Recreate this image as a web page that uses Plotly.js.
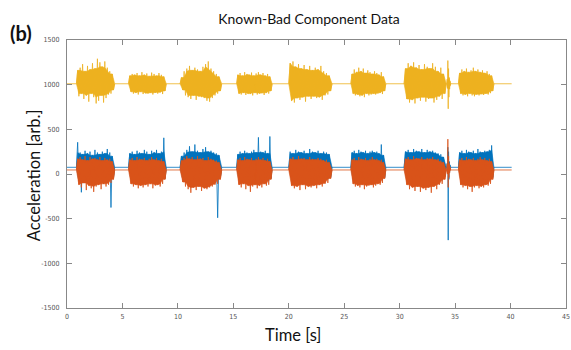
<!DOCTYPE html>
<html>
<head>
<meta charset="utf-8">
<script src="https://cdn.plot.ly/plotly-3.0.1.min.js"></script>
<style>html,body{margin:0;padding:0;background:#fff;}#chart{width:571px;height:350px;}</style>
</head>
<body>
<div id="chart"></div>
<script>
// Burst windows (seconds) – last-but-one window is the short impact event near 34.4 s
const burstStarts = [0.85, 5.55, 10.2, 15.3, 20.0, 25.6, 30.4, 34.25, 35.3];
const burstEnds   = [4.3, 8.95, 13.95, 18.5, 23.9, 28.75, 34.2, 34.6, 38.5];
const recordEnd = 40.1;

// Yellow channel (offset ~1010)
const yellowBase = 1010;
const yellowBursts = [
  [1160,870,1190,900,1230,840,1150,880,1210,810,1170,900,1240,860,1180,790,1290,820,1250,880,1200,800,1260,850,1190,890,1150,900,1120,940],
  [1100,920,1120,900,1110,910,1130,890,1100,920,1140,895,1110,905,1125,900,1095,910,1135,890,1120,910,1100,900,1130,915,1110,895,1090,930],
  [1080,940,1150,880,1180,860,1210,840,1160,880,1190,830,1170,870,1150,860,1200,850,1230,820,1260,810,1180,850,1150,880,1120,900,1090,930],
  [1110,900,1130,890,1100,910,1140,885,1120,900,1110,895,1135,880,1100,910,1125,890,1140,900,1110,905,1130,885,1100,910,1120,900,1090,930],
  [1240,820,1260,800,1200,850,1230,830,1180,860,1220,810,1170,870,1210,840,1160,870,1190,850,1170,860,1210,830,1150,880,1130,890,1100,930],
  [1120,900,1170,880,1140,890,1190,870,1150,880,1180,860,1130,900,1160,880,1140,890,1120,900,1150,890,1130,900,1110,910,1140,895,1090,930],
  [1180,840,1240,800,1210,830,1250,790,1190,850,1220,820,1170,860,1230,810,1200,840,1180,850,1240,800,1200,830,1150,870,1190,840,1120,900],
  [1060,960,1270,730,1180,860,1080,950,1040,990],
  [1130,900,1170,880,1150,890,1180,870,1140,900,1160,880,1190,870,1150,890,1170,880,1140,895,1160,885,1130,900,1150,890,1120,905,1100,930]
];

// Blue channel (offset ~75)
const blueBase = 75;
const blueBursts = [
  [355,-80,240,-205,220,-60,260,-90,230,-70,250,-100,210,-50,270,-80,240,-90,220,-60,250,-110,230,-70,280,-90,240,-375,200,-40],
  [230,-60,250,-80,220,-70,260,-90,240,-60,230,-100,270,-80,250,-70,220,-90,260,-60,240,-80,270,-70,230,-90,250,-60,405,-50],
  [200,-60,240,-90,270,-70,310,-100,250,-80,330,-110,260,-90,240,-80,280,-100,300,-70,250,-90,260,-80,240,-100,230,-490,210,-40],
  [220,-60,250,-90,230,-70,260,-80,240,-100,230,-70,250,-90,270,-80,240,-70,410,-90,250,-80,240,-60,260,-70,230,-80,420,-50],
  [250,-60,230,-90,270,-80,250,-100,240,-70,260,-90,230,-80,280,-100,250,-70,240,-90,260,-80,230,-70,250,-90,240,-60,220,-40],
  [240,-60,260,-80,230,-90,270,-70,250,-100,240,-80,260,-70,230,-90,250,-80,260,-70,240,-90,250,-60,230,-80,330,-70,210,-40],
  [250,-60,270,-90,240,-100,280,-80,260,-110,250,-90,280,-100,240,-80,270,-110,250,-90,260,-80,240,-100,230,-80,220,-70,190,-30],
  [120,20,300,-740,250,-60,140,20,100,60],
  [240,-60,260,-80,230,-90,270,-70,250,-100,240,-80,260,-70,230,-90,280,-80,250,-70,240,-90,260,-60,250,-80,270,-70,320,-40]
];

// Orange channel (offset ~45)
const orangeBase = 45;
const orangeBursts = [
  [170,-120,190,-150,160,-100,200,-180,150,-130,190,-160,170,-200,180,-140,160,-120,190,-170,150,-110,180,-140,160,-120,170,-100,140,-60],
  [160,-110,180,-140,150,-120,190,-160,170,-130,160,-150,180,-120,150,-140,170,-110,190,-160,160,-130,180,-120,150,-140,170,-110,140,-60],
  [150,-90,180,-140,200,-170,170,-210,190,-150,160,-180,200,-140,170,-190,180,-160,150,-170,190,-150,170,-140,160,-120,150,-110,130,-60],
  [160,-120,180,-150,150,-110,190,-170,170,-130,160,-200,180,-140,150,-120,170,-160,190,-130,160,-150,180,-110,150,-130,170,-120,140,-60],
  [170,-130,190,-160,160,-140,200,-180,170,-120,180,-170,160,-140,190,-150,170,-130,160,-160,180,-120,170,-140,150,-110,160,-100,130,-50],
  [160,-110,180,-140,150,-130,190,-150,170,-120,160,-170,180,-140,150,-130,170,-120,190,-150,160,-130,170,-110,150,-120,160,-100,130,-50],
  [170,-120,190,-170,160,-150,200,-190,180,-140,170,-200,190,-160,160,-180,180,-150,170,-210,190,-140,160,-170,170,-120,150,-110,130,-60],
  [110,0,390,-150,200,-40,120,10,80,40],
  [160,-120,180,-150,150,-130,190,-170,170,-140,160,-200,180,-150,150,-130,170,-160,190,-140,160,-150,180,-120,150,-130,170,-110,140,-60]
];

const xTicks = [0,5,10,15,20,25,30,35,40,45];
const yTicks = [-1500,-1000,-500,0,500,1000,1500];

function sampleX(k, i, n) {
  const s = burstStarts[k], e = burstEnds[k];
  return s + (e - s) * (i + 1) / (n + 1);
}

// continuous signal line (baseline + samples)
function buildLine(base, bursts) {
  const x = [0], y = [base];
  bursts.forEach((b, k) => {
    x.push(burstStarts[k]); y.push(base);
    b.forEach((v, i) => { x.push(sampleX(k, i, b.length)); y.push(v); });
    x.push(burstEnds[k]); y.push(base);
  });
  x.push(recordEnd); y.push(base);
  return {x, y};
}

// dense core of each burst: lowest neighbouring upper peak / highest neighbouring lower peak
function buildCore(base, bursts) {
  const x = [], y = [];
  bursts.forEach((b, k) => {
    const n = b.length;
    const pick = (i, fn) => {
      const vals = [b[i]];
      if (i - 2 >= 0) vals.push(b[i - 2]);
      if (i + 2 < n) vals.push(b[i + 2]);
      return fn(...vals);
    };
    x.push(burstStarts[k]); y.push(base);
    for (let i = 0; i < n; i += 2) { x.push(sampleX(k, i, n)); y.push(pick(i, Math.min)); }
    x.push(burstEnds[k]); y.push(base);
    for (let i = n - 1; i >= 1; i -= 2) { x.push(sampleX(k, i, n)); y.push(pick(i, Math.max)); }
    x.push(burstStarts[k]); y.push(base);
    x.push(null); y.push(null);
  });
  return {x, y};
}

const series = [
  {base: yellowBase, bursts: yellowBursts, color: '#EDB120'},
  {base: blueBase, bursts: blueBursts, color: '#0072BD'},
  {base: orangeBase, bursts: orangeBursts, color: '#D95319'}
];

const traces = [];
series.forEach(s => {
  const L = buildLine(s.base, s.bursts);
  const C = buildCore(s.base, s.bursts);
  traces.push({x: C.x, y: C.y, type: 'scatter', mode: 'lines', fill: 'toself', fillcolor: s.color,
               line: {color: s.color, width: 0.6}, connectgaps: false, hoverinfo: 'skip'});
  traces.push({x: L.x, y: L.y, type: 'scatter', mode: 'lines', line: {color: s.color, width: 0.8}, hoverinfo: 'skip'});
});

const tickFont = {family: '"Liberation Sans Narrow", "DejaVu Sans Condensed", sans-serif', size: 7, color: '#555'};
const labFont = {family: 'Lato, "Open Sans", sans-serif', size: 16.5, color: '#111'};

const layout = {
  width: 571, height: 350,
  margin: {l: 67, r: 5, t: 40, b: 42},
  paper_bgcolor: '#fff', plot_bgcolor: '#fff',
  showlegend: false,
  title: {text: 'Known-Bad Component Data', font: {family: 'Lato, "Open Sans", sans-serif', size: 14, color: '#111'},
          xref: 'container', yref: 'container', x: 309/571, y: 1 - 19/350, xanchor: 'center', yanchor: 'middle'},
  xaxis: {range: [0, 45], tickvals: xTicks, ticktext: xTicks.map(String), ticks: 'inside', ticklen: 5, tickcolor: '#888',
          showline: true, linecolor: '#888', linewidth: 1, mirror: 'ticks', showgrid: false, zeroline: false,
          tickfont: tickFont, ticklabelstandoff: 2},
  yaxis: {range: [-1500, 1500], tickvals: yTicks, ticktext: yTicks.map(String), ticks: 'inside', ticklen: 5, tickcolor: '#888',
          showline: true, linecolor: '#888', linewidth: 1, mirror: 'ticks', showgrid: false, zeroline: false,
          tickfont: tickFont, ticklabelstandoff: 5},
  annotations: [
    {text: 'Time [s]', xref: 'paper', yref: 'paper', x: 0.453, y: -0.1, xanchor: 'center', yanchor: 'middle', showarrow: false, font: labFont},
    {text: 'Acceleration [arb.]', xref: 'paper', yref: 'paper', x: -0.066, y: 0.496, xanchor: 'center', yanchor: 'middle', textangle: -90, showarrow: false, font: labFont},
    {text: '<b>(b)</b>', xref: 'paper', yref: 'paper', x: -0.092, y: 1.026, xanchor: 'center', yanchor: 'middle', showarrow: false,
     font: {family: 'Lato, "Open Sans", sans-serif', size: 20, color: '#111'}}
  ]
};

Plotly.newPlot('chart', traces, layout, {displayModeBar: false, staticPlot: true});
</script>
</body>
</html>
